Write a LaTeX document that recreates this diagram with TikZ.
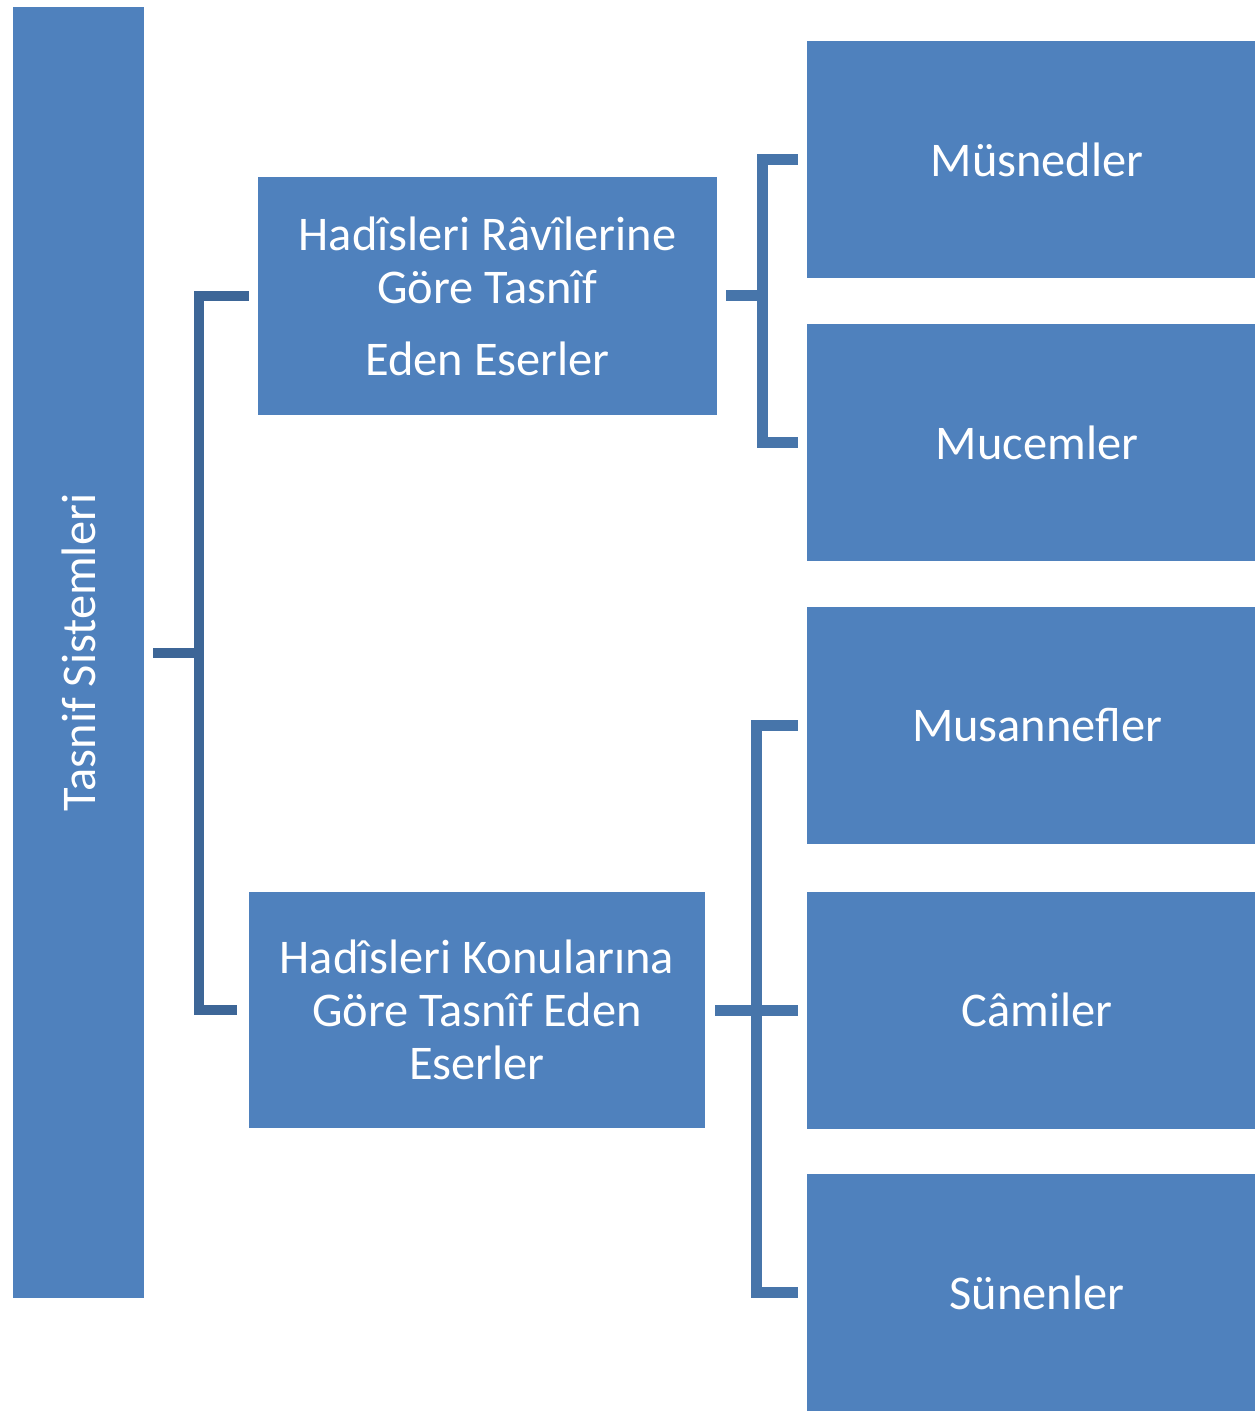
\documentclass[tikz,border=0pt]{standalone}
\usepackage{fontspec}
\setmainfont{Carlito}
\definecolor{boxblue}{HTML}{4F81BD}
\definecolor{lcol}{HTML}{3D6697}
\definecolor{rcol}{HTML}{4775AA}
\tikzset{
  box/.style={fill=boxblue, draw=none, text=white, inner sep=0pt, align=center,
    font=\fontsize{24.2pt}{26.5pt}\selectfont},
  rbox/.style={box, minimum width=230pt, minimum height=118.5pt},
  lconn/.style={draw=lcol, line width=5pt},
  rconn/.style={draw=rcol, line width=5.5pt}
}
\begin{document}
\begin{tikzpicture}[x=0.5pt,y=-0.5pt]
\useasboundingbox (0,0) rectangle (1254,1411);
\node[box, rotate=90, minimum width=645.5pt, minimum height=65.5pt] (root) at (78.5,652.5) {Tasnif Sistemleri};
\node[box, minimum width=229.5pt, minimum height=119pt] (b1) at (487.5,296) {Hadîsleri Râvîlerine\\Göre Tasnîf\\[9.5pt]Eden Eserler};
\node[box, minimum width=228pt, minimum height=118pt] (b2) at (477,1010) {Hadîsleri Konularına\\Göre Tasnîf Eden\\Eserler};
\node[rbox] (r1) at (1037,159.5) {Müsnedler};
\node[rbox] (r2) at (1037,442.5) {Mucemler};
\node[rbox] (r3) at (1037,725.5) {Musannefler};
\node[rbox] (r4) at (1037,1010) {Câmiler};
\node[rbox] (r5) at (1037,1292.5) {Sünenler};
% left bracket
\coordinate (lj) at (199,0);
\draw[lconn, shorten <=4.5pt] (root.south) -- (lj |- root.south);
\draw[lconn, shorten >=4.5pt] (lj |- root.south) |- (b1.west);
\draw[lconn, shorten >=6pt] (lj |- root.south) |- (b2.west);
% right bracket 1
\coordinate (rj1) at (762,0);
\draw[rconn, shorten <=4.5pt] (b1.east) -- (rj1 |- b1.east);
\draw[rconn, shorten >=4.5pt] (rj1 |- b1.east) |- (r1.west);
\draw[rconn, shorten >=4.5pt] (rj1 |- b1.east) |- (r2.west);
% right bracket 2
\coordinate (rj2) at (756,0);
\draw[rconn, shorten <=5pt] (b2.east) -- (rj2 |- b2.east);
\draw[rconn, shorten >=4.5pt] (rj2 |- b2.east) |- (r3.west);
\draw[rconn, shorten >=4.5pt] (rj2 |- b2.east) -- (r4.west);
\draw[rconn, shorten >=4.5pt] (rj2 |- b2.east) |- (r5.west);
\end{tikzpicture}
\end{document}
